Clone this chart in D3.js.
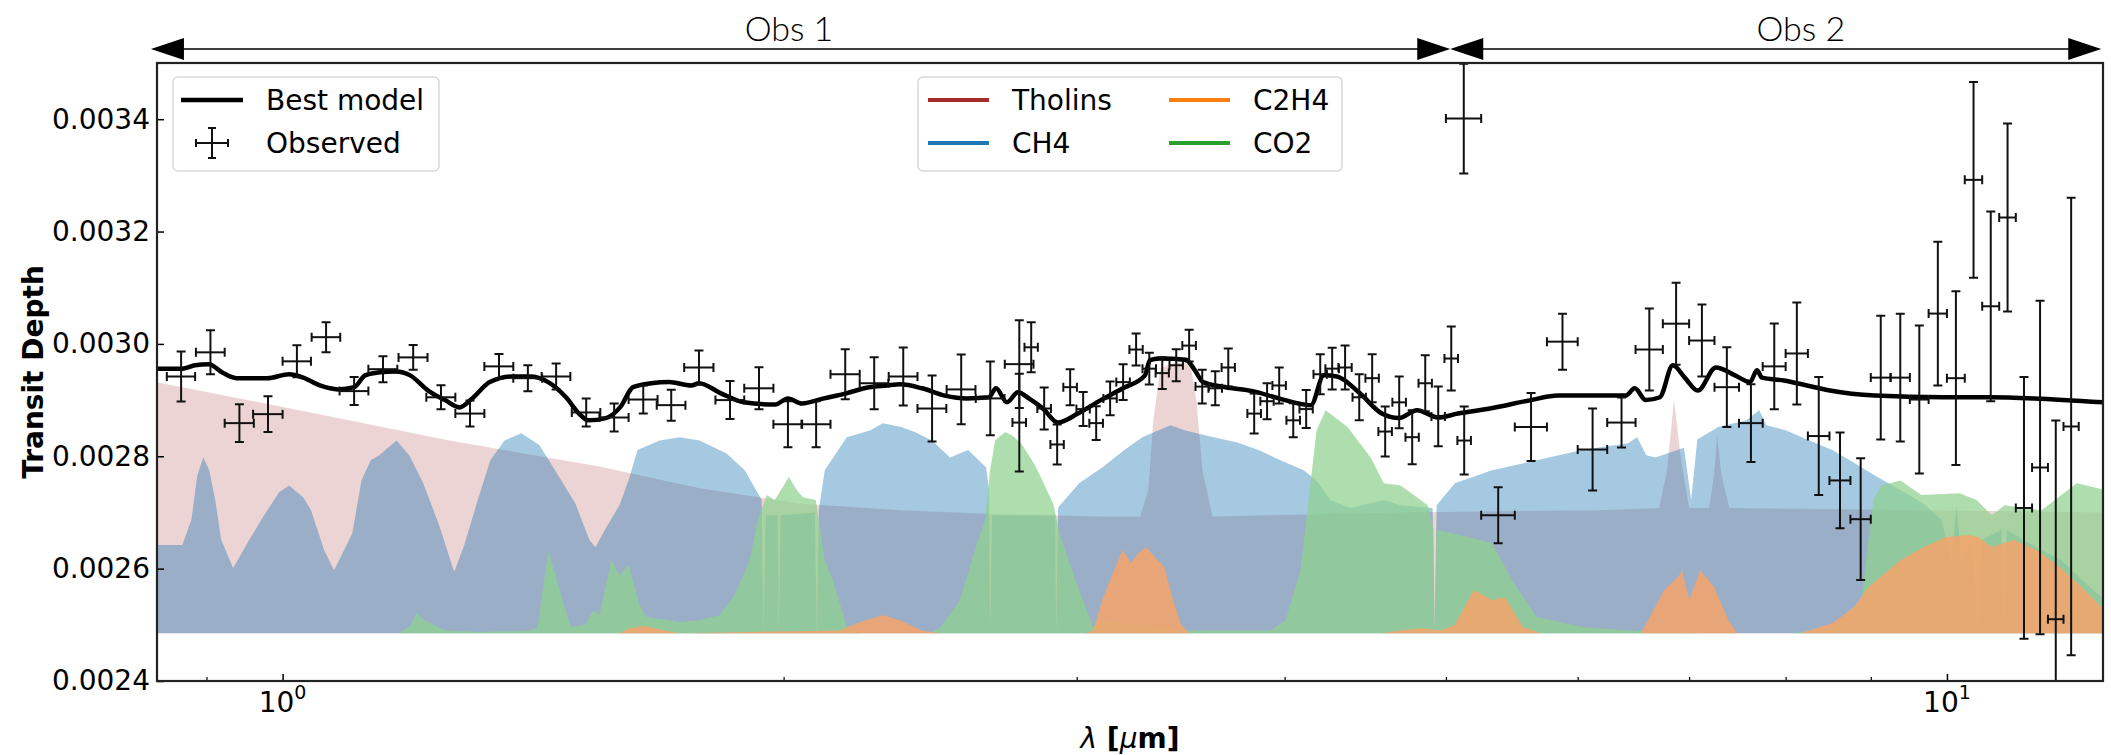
<!DOCTYPE html>
<html>
<head>
<meta charset="utf-8">
<script src="https://cdn.jsdelivr.net/npm/d3@7"></script>
<style>
  body { margin: 0; background: #fff; }
  text { font-family: "DejaVu Sans", sans-serif; fill: #000; }
</style>
</head>
<body>
<div id="chart"></div>
<script>
// ---- data (wavelength in um, transit depth) ----

// best-fit model
const modelWl = [0.841,0.870,0.886,0.903,0.920,0.938,0.979,1.009,1.029,1.053,1.080,1.104,1.121,1.141,1.170,1.193,1.223,1.252,1.277,1.300,1.332,1.374,1.408,1.444,1.480,1.507,1.526,1.564,1.595,1.624,1.665,1.707,1.760,1.779,1.834,1.893,1.976,2.012,2.051,2.115,2.181,2.251,2.307,2.350,2.422,2.500,2.577,2.657,2.683,2.724,2.766,2.808,2.863,2.923,3.005,3.102,3.198,3.297,3.320,3.362,3.489,3.533,3.573,3.688,3.828,3.968,4.148,4.223,4.300,4.439,4.576,4.685,4.804,4.945,5.084,5.314,5.624,5.838,6.018,6.413,6.493,6.593,6.722,6.844,6.958,7.085,7.264,7.459,7.615,7.689,7.742,7.981,8.240,8.506,9.051,9.944,10.60,11.28,12.41];
const modelDepth = [0.002956,0.002956,0.002962,0.002964,0.002949,0.002939,0.002939,0.002946,0.002940,0.002926,0.002919,0.002923,0.002944,0.002949,0.002951,0.002944,0.002917,0.002900,0.002887,0.002903,0.002932,0.002942,0.002942,0.002932,0.002905,0.002876,0.002864,0.002868,0.002887,0.002923,0.002930,0.002932,0.002926,0.002930,0.002912,0.002896,0.002892,0.002903,0.002894,0.002903,0.002912,0.002923,0.002926,0.002928,0.002921,0.002908,0.002903,0.002905,0.002921,0.002896,0.002914,0.002903,0.002885,0.002860,0.002876,0.002900,0.002921,0.002944,0.002971,0.002974,0.002972,0.002953,0.002932,0.002923,0.002916,0.002903,0.002891,0.002944,0.002942,0.002912,0.002876,0.002868,0.002882,0.002869,0.002876,0.002885,0.002900,0.002908,0.002908,0.002908,0.002921,0.002900,0.002905,0.002962,0.002940,0.002917,0.002958,0.002944,0.002932,0.002953,0.002940,0.002935,0.002926,0.002917,0.002908,0.002905,0.002905,0.002903,0.002896];

// observed spectrum
const obsWl = [0.869,0.905,0.942,0.980,1.020,1.062,1.104,1.149,1.198,1.245,1.296,1.349,1.404,1.460,1.522,1.582,1.647,1.712,1.779,1.857,1.933,2.012,2.092,2.178,2.267,2.360,2.456,2.557,2.662,2.771,
  2.771,2.817,2.868,2.920,2.973,3.027,3.082,3.142,3.199,3.257,3.317,3.377,3.443,3.505,3.569,3.634,3.700,3.835,3.904,3.970,4.048,4.121,4.202,4.272,4.349,4.435,4.515,4.597,4.687,4.772,4.859,4.947,5.037,5.128,
  5.125,5.375,5.625,5.875,6.125,6.375,6.625,6.875,7.125,7.375,7.625,7.875,8.125,8.375,8.625,8.875,9.125,9.375,9.625,9.875,10.125,10.375,10.625,10.875,11.125,11.375,11.625,11.875];
const obsWlErr = [0.017,0.018,0.019,0.020,0.020,0.021,0.022,0.023,0.024,0.025,0.026,0.027,0.028,0.029,0.030,0.032,0.033,0.034,0.036,0.037,0.039,0.040,0.042,0.044,0.045,0.047,0.049,0.051,0.053,0.055,
  0.026,0.026,0.027,0.027,0.028,0.028,0.029,0.029,0.030,0.030,0.031,0.031,0.032,0.033,0.033,0.034,0.034,0.036,0.036,0.037,0.038,0.038,0.039,0.040,0.040,0.041,0.042,0.043,0.044,0.044,0.045,0.046,0.047,0.048,
  0.125,0.125,0.125,0.125,0.125,0.125,0.125,0.125,0.125,0.125,0.125,0.125,0.125,0.125,0.125,0.125,0.125,0.125,0.125,0.125,0.125,0.125,0.125,0.125,0.125,0.125,0.125,0.125];
const obsDepth = [0.002942,0.002985,0.002859,0.002875,0.002969,0.003012,0.002916,0.002955,0.002976,0.002905,0.002876,0.002960,0.002939,0.002942,0.002878,0.002869,0.002901,0.002891,0.002958,0.002900,0.002921,0.002857,0.002857,0.002946,0.002930,0.002942,0.002885,0.002919,0.002903,0.002964,
  0.002860,0.002994,0.002885,0.002821,0.002923,0.002884,0.002859,0.002903,0.002932,0.002990,0.002956,0.002948,0.002962,0.002997,0.002924,0.002921,0.002958,0.002876,0.002898,0.002926,0.002864,0.002884,0.002946,0.002956,0.002958,0.002905,0.002939,0.002844,0.002896,0.002834,0.002930,0.002871,0.002974,0.002828,
  0.003401,0.002695,0.002852,0.003004,0.002812,0.002860,0.002990,0.003036,0.003006,0.002923,0.002859,0.002960,0.002983,0.002836,0.002757,0.002688,0.002940,0.002940,0.002901,0.003054,0.002939,0.003292,0.003067,0.003225,0.002708,0.002780,0.002510,0.002853];
const obsDepthErr = [0.0000444,0.0000391,0.0000338,0.0000320,0.0000284,0.0000267,0.0000249,0.0000231,0.0000222,0.0000213,0.0000231,0.0000222,0.0000231,0.0000231,0.0000249,0.0000249,0.0000249,0.0000276,0.0000302,0.0000338,0.0000373,0.0000409,0.0000409,0.0000444,0.0000462,0.0000516,0.0000587,0.0000622,0.0000658,0.0000782,
  0.0000871,0.0000444,0.0000373,0.0000356,0.0000320,0.0000302,0.0000302,0.0000302,0.0000320,0.0000284,0.0000284,0.0000284,0.0000284,0.0000284,0.0000302,0.0000302,0.0000338,0.0000356,0.0000320,0.0000320,0.0000302,0.0000338,0.0000356,0.0000373,0.0000391,0.0000409,0.0000427,0.0000444,0.0000462,0.0000480,0.0000498,0.0000533,0.0000569,0.0000604,
  0.0000978,0.0000498,0.0000604,0.0000498,0.0000729,0.0000444,0.0000729,0.0000729,0.0000640,0.0000711,0.0000693,0.0000764,0.0000907,0.0001049,0.0000853,0.0001084,0.0001102,0.0001138,0.0001316,0.0001280,0.0001547,0.0001742,0.0001689,0.0001671,0.0002329,0.0002969,0.0003538,0.0004071];

// contributions (filled down to a common floor)
const fillFloor = 0.002485;

const tholinsWl = [0.8397,1.0231,1.2594,1.5502,1.7806,2.0452,2.3491,2.6982,3.0992,3.2758,3.3125,3.3358,3.3679,3.4388,3.5110,3.5403,3.5699,3.6199,4.6966,6.1963,6.7149,6.7892,6.8553,6.9227,7.0005,7.1968,7.2470,7.2773,7.3173,7.3996,12.44];
const tholinsDepth = [0.002932,0.002882,0.002828,0.002782,0.002743,0.002716,0.002704,0.002697,0.002693,0.002693,0.002740,0.002864,0.002956,0.002967,0.002964,0.002900,0.002775,0.002693,0.002700,0.002704,0.002708,0.002775,0.002900,0.002793,0.002708,0.002708,0.002770,0.002838,0.002770,0.002708,0.002700];

const ch4Wl = [0.8397,0.8704,0.8813,0.8887,0.8961,0.9035,0.9110,0.9186,0.9339,0.9548,0.9747,0.9952,1.0091,1.0288,1.0402,1.0591,1.0738,1.0889,1.1012,1.1153,1.1296,1.1430,1.1708,1.1915,1.2148,1.2420,1.2680,1.2858,1.3127,1.3330,1.3592,1.3914,1.4265,1.4544,1.4994,1.5288,1.5416,1.5610,1.5937,1.6138,1.6340,1.6846,1.7319,1.7806,1.8483,1.8953,1.9403,1.9458,1.9513,1.9838,1.9865,1.9920,2.0883,2.0940,2.0997,2.1172,2.1826,2.2534,2.2945,2.3524,2.3984,2.4558,2.5177,2.5819,2.6466,2.6576,2.6613,2.6687,2.9119,2.9160,2.9240,3.0102,3.1079,3.2044,3.2851,3.4148,3.4868,3.6248,3.7418,3.8577,3.9771,4.1064,4.1807,4.2625,4.3823,4.5879,4.6966,4.9087,4.9225,4.9362,5.0626,5.3284,5.6704,6.0354,6.4331,6.5143,6.5968,6.6803,6.9500,7.0200,7.0800,7.2870,7.5756,7.7130,7.7892,8.0076,8.2667,8.5331,8.7975,9.0824,9.3772,9.6810,9.9253,10.064,10.133,10.204,10.346,10.447,10.491,10.786,10.816,10.861,11.25,11.72,12.05,12.44];
const ch4Depth = [0.002642,0.002642,0.002686,0.002766,0.002798,0.002775,0.002722,0.002651,0.002601,0.002651,0.002695,0.002736,0.002748,0.002727,0.002704,0.002633,0.002597,0.002633,0.002663,0.002757,0.002793,0.002802,0.002828,0.002802,0.002752,0.002677,0.002594,0.002642,0.002731,0.002793,0.002828,0.002841,0.002820,0.002780,0.002716,0.002651,0.002638,0.002668,0.002713,0.002757,0.002811,0.002828,0.002834,0.002828,0.002805,0.002775,0.002722,0.002485,0.002695,0.002695,0.002485,0.002695,0.002700,0.002485,0.002704,0.002775,0.002834,0.002846,0.002859,0.002852,0.002843,0.002828,0.002798,0.002811,0.002780,0.002740,0.002485,0.002695,0.002695,0.002485,0.002709,0.002752,0.002780,0.002811,0.002834,0.002855,0.002846,0.002834,0.002825,0.002811,0.002793,0.002775,0.002757,0.002722,0.002708,0.002722,0.002713,0.002708,0.002485,0.002713,0.002752,0.002775,0.002793,0.002811,0.002823,0.002834,0.002802,0.002798,0.002815,0.002722,0.002830,0.002852,0.002864,0.002882,0.002855,0.002846,0.002828,0.002811,0.002788,0.002763,0.002740,0.002716,0.002686,0.002615,0.002713,0.002615,0.002651,0.002485,0.002651,0.002669,0.002485,0.002669,0.002642,0.002615,0.002580,0.002544];

const c2h4Wl = [0.8397,1.5937,1.6161,1.6500,1.6965,1.7319,2.1617,2.2225,2.2945,2.3491,2.4220,2.4830,3.0355,3.0693,3.1079,3.1647,3.1959,3.2355,3.2663,3.3024,3.3440,3.3863,3.4194,3.4625,3.4968,3.5110,4.5682,4.6966,4.8286,4.9643,5.0626,5.1966,5.3284,5.4248,5.5618,5.7020,6.5495,6.7620,6.8934,6.9325,7.0005,7.1075,7.2470,7.3893,7.4814,8.1636,8.5331,8.7975,8.9692,9.3772,9.6810,9.9803,10.302,10.447,10.640,10.968,11.321,11.688,12.050,12.44];
const c2h4Depth = [0.002485,0.002485,0.002494,0.002498,0.002490,0.002485,0.002490,0.002505,0.002517,0.002508,0.002490,0.002485,0.002485,0.002490,0.002544,0.002603,0.002633,0.002610,0.002628,0.002638,0.002620,0.002603,0.002556,0.002503,0.002487,0.002485,0.002485,0.002490,0.002494,0.002490,0.002500,0.002562,0.002544,0.002549,0.002496,0.002485,0.002485,0.002562,0.002585,0.002597,0.002544,0.002597,0.002567,0.002508,0.002485,0.002485,0.002503,0.002532,0.002567,0.002615,0.002638,0.002656,0.002660,0.002656,0.002638,0.002651,0.002633,0.002603,0.002567,0.002526];

const co2Wl = [0.8397,1.175,1.1949,1.2030,1.2165,1.2527,1.3127,1.4074,1.4226,1.4443,1.4585,1.4893,1.5189,1.5374,1.5502,1.5760,1.5937,1.6138,1.6385,1.6547,1.7319,1.7806,1.8306,1.8689,1.9085,1.9295,1.9540,1.9757,2.0146,2.0368,2.0540,2.0911,2.1172,2.1439,2.1826,2.2225,2.4489,2.4865,2.5527,2.6135,2.6427,2.6613,2.6797,2.7174,2.7439,2.7779,2.8323,2.9040,2.9321,2.9937,3.0693,3.0992,3.2758,3.511,3.9222,4.0049,4.0889,4.1807,4.2333,4.3640,4.5054,4.5879,4.6966,4.8761,4.9156,4.9225,4.9362,5.1614,5.3284,5.4927,5.6704,6.0354,6.4331,7.1173,8.0627,8.5216,8.8838,9.0322,9.1334,9.3772,9.654,10.175,10.419,10.640,10.831,11.40,11.967,12.44];
const co2Depth = [0.002485,0.002485,0.002500,0.002521,0.002508,0.002490,0.002487,0.002490,0.002494,0.002633,0.002588,0.002496,0.002500,0.002526,0.002517,0.002615,0.002588,0.002606,0.002535,0.002514,0.002505,0.002508,0.002517,0.002553,0.002615,0.002686,0.002731,0.002722,0.002763,0.002740,0.002727,0.002722,0.002615,0.002574,0.002496,0.002485,0.002485,0.002496,0.002544,0.002645,0.002686,0.002775,0.002828,0.002843,0.002837,0.002823,0.002784,0.002716,0.002660,0.002580,0.002496,0.002508,0.002500,0.002490,0.002490,0.002508,0.002597,0.002846,0.002882,0.002852,0.002798,0.002752,0.002748,0.002713,0.002669,0.002485,0.002669,0.002656,0.002645,0.002574,0.002514,0.002496,0.002490,0.002485,0.002485,0.002494,0.002544,0.002722,0.002748,0.002757,0.002731,0.002734,0.002722,0.002695,0.002713,0.002704,0.002752,0.002740];

// legend colour, fill colour/opacity; listed in legend order
const species = [
  {name: "Tholins", color: "#a52a2a", fill: "#a52a2a", alpha: 0.2, wl: tholinsWl, depth: tholinsDepth},
  {name: "CH4", color: "#1f77b4", fill: "#1f77b4", alpha: 0.4, wl: ch4Wl, depth: ch4Depth},
  {name: "C2H4", color: "#ff7f0e", fill: "#f6a36a", alpha: 0.85, wl: c2h4Wl, depth: c2h4Depth},
  {name: "CO2", color: "#2ca02c", fill: "#8fd18f", alpha: 0.72, wl: co2Wl, depth: co2Depth}
];
// order the fills are painted in (C2H4 sits on top)
const paintOrder = ["Tholins", "CH4", "CO2", "C2H4"];

const yTicks = [0.0024, 0.0026, 0.0028, 0.0030, 0.0032, 0.0034];
const xMajor = [1, 10];
const xMinor = [0.9, 2, 3, 4, 5, 6, 7, 8, 9];
const obsSpans = [
  {label: "Obs 1", from: 0.8335, to: 5.03, at: 2.015},
  {label: "Obs 2", from: 5.03, to: 12.38, at: 8.17}
];

// ---- drawing ----
var W = 2111, H = 755;
var plotL = 157, plotR = 2103, plotT = 63, plotB = 681;

var svg = d3.select("#chart").append("svg")
    .attr("width", W)
    .attr("height", H);

var x = d3.scaleLog().domain([0.8405, 12.41]).range([plotL, plotR]);
var y = d3.scaleLinear().domain([0.0024, 0.0035]).range([plotB, plotT]);

svg.append("clipPath").attr("id", "plotclip")
  .append("rect")
    .attr("x", plotL).attr("y", plotT)
    .attr("width", plotR - plotL).attr("height", plotB - plotT);

var plot = svg.append("g").attr("clip-path", "url(#plotclip)");

// filled contributions
paintOrder.forEach(function(name) {
    var s = species.find(d => d.name === name);
    var pts = s.wl.map((w, i) => [w, s.depth[i]]);
    var area = d3.area()
        .x(d => x(d[0]))
        .y0(y(fillFloor))
        .y1(d => y(d[1]));
    plot.append("path")
        .datum(pts)
        .attr("d", area)
        .attr("fill", s.fill)
        .attr("fill-opacity", s.alpha)
        .attr("stroke", "none");
});

// best model
var modelPts = modelWl.map((w, i) => [w, modelDepth[i]]);
plot.append("path")
    .datum(modelPts)
    .attr("d", d3.line().x(d => x(d[0])).y(d => y(d[1])).curve(d3.curveMonotoneX))
    .attr("fill", "none")
    .attr("stroke", "#000")
    .attr("stroke-width", 4.5)
    .attr("stroke-linejoin", "round");

// error bars
var cap = 4.5;
var obs = obsWl.map((w, i) => ({w: w, we: obsWlErr[i], d: obsDepth[i], de: obsDepthErr[i]}));
var eb = plot.append("g")
    .attr("stroke", "#111")
    .attr("stroke-width", 2)
    .selectAll("g")
    .data(obs)
    .join("g");

eb.append("line")
    .attr("x1", d => x(d.w - d.we)).attr("x2", d => x(d.w + d.we))
    .attr("y1", d => y(d.d)).attr("y2", d => y(d.d));
eb.append("line")
    .attr("x1", d => x(d.w)).attr("x2", d => x(d.w))
    .attr("y1", d => y(d.d - d.de)).attr("y2", d => y(d.d + d.de));
eb.append("path")
    .attr("fill", "none")
    .attr("d", function(d) {
        var x0 = x(d.w - d.we), x1 = x(d.w + d.we), xc = x(d.w);
        var yc = y(d.d), y0 = y(d.d - d.de), y1 = y(d.d + d.de);
        return `M${x0},${yc - cap}V${yc + cap}M${x1},${yc - cap}V${yc + cap}` +
               `M${xc - cap},${y0}H${xc + cap}M${xc - cap},${y1}H${xc + cap}`;
    });

// axes
var yAxis = svg.append("g")
    .attr("transform", `translate(${plotL},0)`)
    .call(d3.axisLeft(y).tickValues(yTicks).tickFormat(d3.format(".4f")).tickSize(-7).tickPadding(7));
yAxis.select(".domain").remove();
yAxis.selectAll("text").style("font-size", "28px").style("font-family", "DejaVu Sans");
yAxis.selectAll("line").attr("stroke", "#000").attr("stroke-width", 1.5);

var xAxisMinor = svg.append("g")
    .attr("transform", `translate(0,${plotB})`)
    .call(d3.axisBottom(x).tickValues(xMinor).tickFormat("").tickSize(-4));
xAxisMinor.select(".domain").remove();
xAxisMinor.selectAll("line").attr("stroke", "#000").attr("stroke-width", 1.2);

var xAxisMajor = svg.append("g")
    .attr("transform", `translate(0,${plotB})`)
    .call(d3.axisBottom(x).tickValues(xMajor).tickFormat("").tickSize(-7));
xAxisMajor.select(".domain").remove();
xAxisMajor.selectAll("line").attr("stroke", "#000").attr("stroke-width", 1.5);

xMajor.forEach(function(v) {
    var t = svg.append("text")
        .attr("x", x(v))
        .attr("y", 712)
        .attr("text-anchor", "middle")
        .style("font-size", "28px");
    t.append("tspan").text("10");
    t.append("tspan").attr("dy", -13).style("font-size", "19px").text(String(Math.round(Math.log10(v))));
});

// frame
svg.append("rect")
    .attr("x", plotL).attr("y", plotT)
    .attr("width", plotR - plotL).attr("height", plotB - plotT)
    .attr("fill", "none")
    .attr("stroke", "#222")
    .attr("stroke-width", 2.2);

// axis labels
var xl = svg.append("text")
    .attr("x", (plotL + plotR) / 2)
    .attr("y", 748)
    .attr("text-anchor", "middle")
    .style("font-size", "28px");
xl.append("tspan").style("font-style", "italic").text("λ");
xl.append("tspan").style("font-weight", "bold").text(" [");
xl.append("tspan").style("font-style", "italic").text("μ");
xl.append("tspan").style("font-weight", "bold").text("m]");

svg.append("text")
    .attr("transform", `translate(33,${(plotT + plotB) / 2}) rotate(-90)`)
    .attr("text-anchor", "middle")
    .attr("dominant-baseline", "central")
    .style("font-size", "28px")
    .style("font-weight", "bold")
    .text("Transit Depth");

// legends
function legendBox(x0, y0, w, h) {
    svg.append("rect")
        .attr("x", x0).attr("y", y0)
        .attr("width", w).attr("height", h)
        .attr("rx", 5)
        .attr("fill", "#fff").attr("fill-opacity", 0.8)
        .attr("stroke", "#d8d8d8").attr("stroke-width", 1.5);
}

legendBox(173, 77, 266, 94);
svg.append("line")
    .attr("x1", 181).attr("x2", 243).attr("y1", 100).attr("y2", 100)
    .attr("stroke", "#000").attr("stroke-width", 4.5);
svg.append("text").attr("x", 266).attr("y", 100).attr("dominant-baseline", "central")
    .style("font-size", "28px").text("Best model");
svg.append("path")
    .attr("fill", "none").attr("stroke", "#111").attr("stroke-width", 2)
    .attr("d", "M196,143H228M212,128V158M196,139V147M228,139V147M208,128H216M208,158H216");
svg.append("text").attr("x", 266).attr("y", 143).attr("dominant-baseline", "central")
    .style("font-size", "28px").text("Observed");

legendBox(918, 77, 424, 94);
species.forEach(function(s, i) {
    var col = Math.floor(i / 2), row = i % 2;
    var lx = 928 + col * 241, ly = 100 + row * 43;
    svg.append("line")
        .attr("x1", lx).attr("x2", lx + 61).attr("y1", ly).attr("y2", ly)
        .attr("stroke", s.color).attr("stroke-width", 4);
    svg.append("text").attr("x", lx + 84).attr("y", ly).attr("dominant-baseline", "central")
        .style("font-size", "28px").text(s.name);
});

// observation span arrows
var arrowY = 49;
function head(px, dir) {
    // dir = +1 points right, -1 points left
    return `M${px},${arrowY}L${px - dir * 33},${arrowY - 11}L${px - dir * 33},${arrowY + 11}Z`;
}
obsSpans.forEach(function(s) {
    var a = x(s.from), b = x(s.to);
    svg.append("line")
        .attr("x1", a + 20).attr("x2", b - 20).attr("y1", arrowY).attr("y2", arrowY)
        .attr("stroke", "#000").attr("stroke-width", 1.5);
    svg.append("path").attr("d", head(a, -1)).attr("fill", "#000");
    svg.append("path").attr("d", head(b, 1)).attr("fill", "#000");
    svg.append("text")
        .attr("x", x(s.at)).attr("y", 41)
        .attr("text-anchor", "middle")
        .style("font-family", "Lato, 'Open Sans', sans-serif")
        .style("font-weight", 300)
        .style("font-size", "34px")
        .text(s.label);
});
</script>
</body>
</html>
